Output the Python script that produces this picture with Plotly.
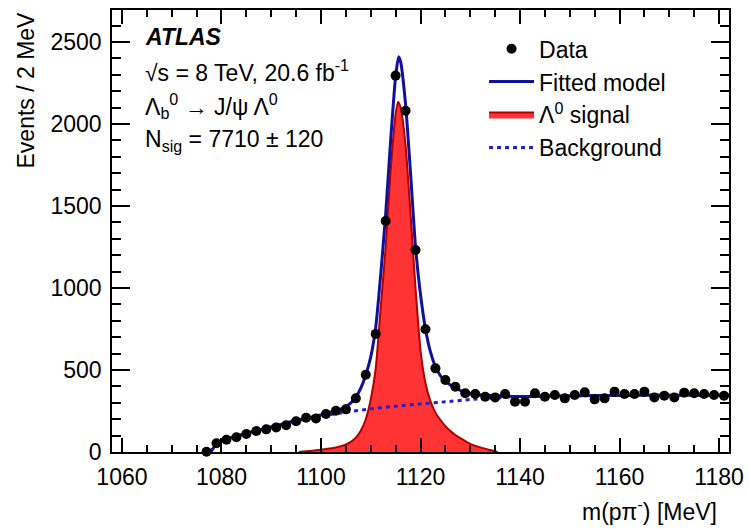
import plotly.graph_objects as go

# ---------------- data ----------------
data_x = [1077, 1079, 1081, 1083, 1085, 1087, 1089, 1091, 1093, 1095, 1097, 1099,
          1101, 1103, 1105, 1107, 1109, 1111, 1113, 1115, 1117, 1119, 1121, 1123,
          1125, 1127, 1129, 1131, 1133, 1135, 1137, 1139, 1141, 1143, 1145, 1147,
          1149, 1151, 1153, 1155, 1157, 1159, 1161, 1163, 1165, 1167, 1169, 1171,
          1173, 1175, 1177, 1179, 1181]
data_y = [2, 53, 75, 90, 110, 128, 138, 150, 163, 187, 209, 205,
          232, 252, 260, 327, 471, 720, 1408, 2295, 2081, 1232, 748, 510,
          439, 398, 358, 354, 337, 333, 354, 307, 307, 358, 337, 348,
          327, 348, 364, 321, 327, 368, 354, 354, 368, 333, 343, 333,
          362, 358, 354, 348, 343]

sig_x = [1095.5, 1097, 1099, 1101, 1103, 1104, 1105, 1106, 1107, 1108, 1109, 1110,
         1111, 1112, 1113, 1114, 1115, 1115.5, 1116, 1117, 1118, 1119, 1120, 1121,
         1122, 1123, 1124, 1125, 1126, 1127, 1128, 1129, 1130, 1132, 1134, 1135.5]
sig_y = [0, 4, 10, 18, 28, 36, 46, 62, 88, 130, 200, 320,
         510, 880, 1250, 1720, 2060, 2136, 2100, 1870, 1450, 1000, 620, 420,
         310, 240, 195, 158, 128, 104, 84, 66, 50, 28, 12, 0]

bkg_x = [1077.8, 1078.5, 1079, 1080, 1082, 1084, 1086, 1088, 1090, 1092, 1094, 1096,
         1098, 1100, 1102, 1105, 1110, 1115, 1120, 1125, 1130, 1135, 1140, 1145,
         1150, 1160, 1170, 1182]
bkg_y = [0, 30, 50, 65, 88, 105, 122, 137, 152, 168, 183, 196,
         208, 219, 229, 243, 263, 279, 293, 306, 320, 330, 338, 341,
         343, 345, 346, 347]

fit_x = [1077.8, 1078.5, 1079, 1080, 1082, 1084, 1086, 1088, 1090, 1092, 1094, 1096,
         1098, 1100, 1102, 1104, 1105, 1106, 1107, 1108, 1109, 1110, 1111, 1112,
         1113, 1114, 1115, 1115.6, 1116, 1117, 1118, 1119, 1120, 1121, 1122, 1123,
         1124, 1125, 1126, 1127, 1128, 1129, 1130, 1132, 1134, 1137, 1140, 1145,
         1150, 1160, 1170, 1182]
fit_y = [0, 30, 50, 65, 88, 105, 122, 137, 152, 168, 184, 198,
         212, 226, 244, 262, 276, 300, 335, 390, 470, 580, 760, 1080,
         1450, 1900, 2290, 2410, 2380, 2120, 1700, 1250, 960, 750, 610, 520,
         465, 430, 408, 390, 375, 363, 355, 348, 344, 341, 338, 341,
         343, 345, 346, 347]

x_ticks = [1060, 1080, 1100, 1120, 1140, 1160, 1180]
y_ticks = [0, 500, 1000, 1500, 2000, 2500]

FONT = "Liberation Sans, Arial, Helvetica, sans-serif"
FS = 23

fig = go.Figure()

fig.add_trace(go.Scatter(
    x=sig_x, y=sig_y, mode="lines", name="Λ<sup>0</sup> signal",
    fill="tozeroy", fillcolor="#ff3333",
    line=dict(color="#b00000", width=2, shape="spline", smoothing=0.6),
    legendrank=3))

fig.add_trace(go.Scatter(
    x=bkg_x, y=bkg_y, mode="lines", name="Background",
    line=dict(color="#2222c8", width=3, dash="4px,4px", shape="spline", smoothing=0.6),
    legendrank=4))

fig.add_trace(go.Scatter(
    x=fit_x, y=fit_y, mode="lines", name="Fitted model",
    line=dict(color="#10109c", width=3, shape="spline", smoothing=0.6),
    legendrank=2))

fig.add_trace(go.Scatter(
    x=data_x, y=data_y, mode="markers", name="Data",
    marker=dict(color="black", size=10, symbol="circle"),
    cliponaxis=False, legendrank=1))

axis_common = dict(
    showline=True, linecolor="black", linewidth=1.5, mirror="ticks",
    ticks="inside", tickcolor="black", tickwidth=1.5,
    showgrid=False, zeroline=False, automargin=False,
    tickfont=dict(family=FONT, size=FS, color="black"),
)

fig.update_xaxes(
    range=[1058, 1182], tickvals=x_ticks, ticktext=[str(v) for v in x_ticks],
    ticklen=14, ticklabelstandoff=4,
    minor=dict(dtick=5, tick0=1060, ticks="inside", ticklen=7, tickcolor="black", tickwidth=1.5),
    **axis_common)
fig.update_yaxes(
    range=[0, 2695], tickvals=y_ticks, ticktext=[str(v) for v in y_ticks],
    ticklen=18, ticklabelstandoff=4,
    minor=dict(dtick=100, tick0=0, ticks="inside", ticklen=9, tickcolor="black", tickwidth=1.5),
    **axis_common)

anns = [
    dict(text="<b><i>ATLAS</i></b>", x=0.05, y=0.938),
    dict(text="√s = 8 TeV, 20.6 fb<sup>-1</sup>", x=0.05, y=0.862),
    dict(text="Λ<sub>b</sub><sup>0</sup> → J/ψ Λ<sup>0</sup>", x=0.05, y=0.782),
    dict(text="N<sub>sig</sub> = 7710 ± 120", x=0.05, y=0.704),
]
for a in anns:
    fig.add_annotation(xref="paper", yref="paper", xanchor="left", yanchor="middle",
                       showarrow=False, font=dict(family=FONT, size=FS, color="black"), **a)

fig.add_annotation(text="m(pπ<sup>-</sup>) [MeV]", xref="paper", yref="paper",
                   x=1, y=0, xanchor="right", yanchor="middle", xshift=-10, yshift=-58,
                   showarrow=False, font=dict(family=FONT, size=FS, color="black"))
fig.add_annotation(text="Events / 2 MeV", xref="paper", yref="paper",
                   x=0, y=1, xanchor="center", yanchor="top", xshift=-87, yshift=0,
                   textangle=-90, showarrow=False,
                   font=dict(family=FONT, size=FS, color="black"))

fig.update_layout(
    width=749, height=529,
    margin=dict(l=112, r=20, t=10, b=77, autoexpand=False),
    paper_bgcolor="white", plot_bgcolor="white",
    font=dict(family=FONT, size=FS, color="black"),
    legend=dict(x=0.603, y=0.961, xanchor="left", yanchor="top",
                bgcolor="rgba(0,0,0,0)", font=dict(family=FONT, size=FS, color="black"),
                itemwidth=45, tracegroupgap=0, traceorder="normal"),
    showlegend=True,
)

fig.write_html("out.html")
